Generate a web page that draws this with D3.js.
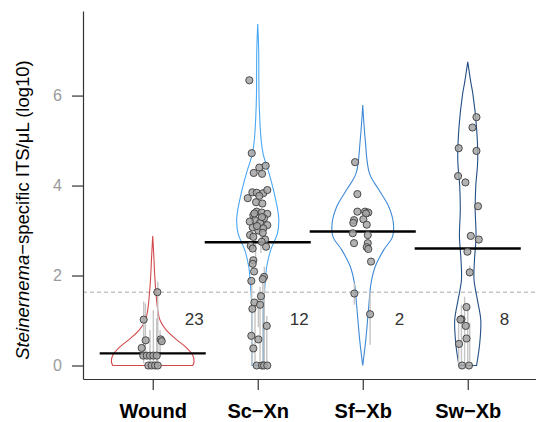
<!DOCTYPE html>
<html>
<head>
<meta charset="utf-8">
<script src="https://cdnjs.cloudflare.com/ajax/libs/d3/7.8.5/d3.min.js"></script>
<style>
  body { margin: 0; background: #fff; }
  #chart { width: 536px; height: 422px; }
</style>
</head>
<body>
<div id="chart"></div>
<script>
// groups along the x axis
var categories = ['Wound', 'Sc\u2212Xn', 'Sf\u2212Xb', 'Sw\u2212Xb'];
var counts = ['23', '12', '2', '8'];
var medians = [0.27, 2.74, 2.98, 2.60];
var threshold = 1.63;
var yTicks = [0, 2, 4, 6];
var violinColors = ['#d2494b', '#4aa8f5', '#3f8ad6', '#234f86'];

// violin outlines: [log10 value, half width in category units]
var woundViolin = [[0, 0.381], [0.08, 0.393], [0.23, 0.381], [0.42, 0.31], [0.57, 0.229], [0.79, 0.127],
  [1.01, 0.069], [1.23, 0.048], [1.63, 0.030], [2.0, 0.019], [2.4, 0.011], [2.88, 0]];
var scViolin = [[0, 0.055], [0.57, 0.055], [1.31, 0.057], [1.83, 0.071], [2.2, 0.086], [2.57, 0.124],
  [2.94, 0.188], [3.27, 0.2], [3.75, 0.165], [4.27, 0.108], [4.7, 0.052], [5.0, 0.033], [5.5, 0.019],
  [6.0, 0.012], [7.0, 0.009], [7.59, 0]];
var sfViolin = [[0, 0], [0.57, 0.029], [1.31, 0.057], [1.83, 0.079], [2.2, 0.119], [2.57, 0.2],
  [2.86, 0.283], [3.16, 0.292], [3.53, 0.248], [3.9, 0.155], [4.27, 0.064], [5.01, 0.024], [5.79, 0]];
var swViolin = [[0, 0.084], [0.49, 0.114], [1.01, 0.124], [1.46, 0.092], [1.9, 0.06], [2.34, 0.064],
  [2.86, 0.079], [3.46, 0.071], [3.97, 0.076], [4.57, 0.095], [5.31, 0.083], [6.05, 0.048],
  [6.27, 0.031], [6.75, 0]];

// samples: [log10 value, jitter in category units]
var woundPoints = [[1.63, 0.044], [1.02, -0.086], [0.56, -0.067], [0.58, 0.076], [0.54, 0.086],
  [0.39, -0.105], [0.22, -0.09], [0.22, -0.057], [0.22, -0.026], [0.22, 0.006], [0.22, 0.038],
  [0, -0.042], [0, -0.01], [0, 0.022], [0, 0.048]];
var scPoints = [[6.34, -0.08], [4.72, -0.057], [4.40, 0.015], [4.44, 0.076], [4.28, -0.038], [4.26, 0.041],
  [3.85, -0.051], [3.84, -0.01], [3.83, 0.053], [3.90, 0.091], [3.72, -0.095], [3.77, 0.015],
  [3.63, -0.016], [3.60, 0.044], [3.42, -0.01], [3.40, 0.038], [3.37, 0.091], [3.34, -0.042],
  [3.27, 0.06], [3.23, -0.026], [3.17, 0.022], [3.12, 0.091], [3.07, -0.048], [3.00, 0.006],
  [3.05, 0.053], [3.38, -0.032], [3.30, 0.04], [3.20, -0.076], [3.10, -0.007], [2.95, 0.048],
  [2.90, -0.073], [2.86, -0.042], [2.80, 0.07], [2.75, 0.038], [2.64, 0.079], [2.66, -0.067],
  [2.60, -0.048], [2.34, -0.042], [2.26, -0.048], [2.09, -0.035], [1.97, 0.06], [1.92, 0.048],
  [1.88, -0.061], [1.54, 0.031], [1.40, -0.032], [1.35, 0.022], [1.26, -0.051], [0.88, 0.086],
  [0.66, -0.061], [0.58, 0.006], [0.38, -0.042], [0, -0.01], [0, 0.041], [0, 0.06], [0, 0.091]];
var sfPoints = [[4.52, -0.073], [3.81, -0.051], [3.42, -0.051], [3.42, 0.022], [3.40, 0.053], [3.38, 0.031],
  [3.23, -0.083], [3.17, -0.09], [3.25, 0.006], [3.13, 0.038], [2.94, -0.095], [2.90, 0.048],
  [2.72, -0.083], [2.72, 0.048], [2.63, 0.038], [2.59, 0.053], [2.31, 0.079], [1.60, -0.08], [1.14, 0.07]];
var swPoints = [[5.52, 0.083], [5.29, 0.045], [4.83, -0.086], [4.77, 0.083], [4.21, -0.092], [4.07, -0.022],
  [3.54, 0.098], [2.88, 0.029], [2.80, 0.105], [2.53, -0.003], [2.07, 0.019], [1.30, -0.012],
  [1.03, -0.06], [1.02, -0.07], [0.88, -0.019], [0.60, -0.012], [0.48, -0.083], [0, -0.054], [0, 0.012]];

// replicate ranges: [jitter, low, high]
var woundRanges = [[0.048, 0, 1.86], [-0.086, 0.05, 1.42], [-0.07, 0.2, 1.38], [0.006, 0.05, 1.23],
  [0.038, 0.05, 1.05], [0.07, 0.2, 0.79], [-0.026, 0.05, 0.79]];
var scRanges = [[-0.057, 0, 1.9], [-0.026, 0, 1.41], [0.022, 0, 1.75], [0.048, 0, 2.0], [0.063, 0, 2.2],
  [0.086, 0, 1.1], [0.006, 0.85, 1.6], [-0.02, 2.3, 3.0], [0.03, 2.5, 3.2]];
var sfRanges = [[-0.08, 1.35, 1.83], [0.07, 0.46, 1.64]];
var swRanges = [[-0.087, 0, 1.0], [-0.06, 0, 1.35], [-0.03, 0, 1.53], [0.0, 0, 1.3], [0.019, 0.1, 0.95],
  [0.02, 1.97, 2.22]];

var violins = [woundViolin, scViolin, sfViolin, swViolin];
var points = [woundPoints, scPoints, sfPoints, swPoints];
var ranges = [woundRanges, scRanges, sfRanges, swRanges];

var width = 536, height = 422;
var font = '"Liberation Sans", Arial, Helvetica, sans-serif';

var svg = d3.select('#chart')
	.append('svg')
	.attr('width', width)
	.attr('height', height)
	.style('font-family', font);

var x = d3.scaleLinear().domain([0.336, 4.65]).range([83, 536]);
var y = d3.scaleLinear().domain([-0.3, 7.88]).range([379, 11]);

// threshold line
svg.append('line')
	.attr('x1', x.range()[0]).attr('x2', x.range()[1])
	.attr('y1', y(threshold)).attr('y2', y(threshold))
	.style('stroke', '#aaa')
	.style('stroke-width', 1)
	.style('stroke-dasharray', '4,3');

// violins
categories.forEach(function(c, i) {
	var cx = i + 1;
	var area = d3.area()
		.curve(d3.curveCatmullRom.alpha(0.5))
		.y(function(d) { return y(d[0]); })
		.x0(function(d) { return x(cx - d[1]); })
		.x1(function(d) { return x(cx + d[1]); });
	svg.append('path')
		.datum(violins[i])
		.attr('d', area)
		.style('fill', 'none')
		.style('stroke', violinColors[i])
		.style('stroke-width', 1.1);
});

// replicate ranges
categories.forEach(function(c, i) {
	var cx = i + 1;
	svg.selectAll('.range' + i)
		.data(ranges[i])
		.enter().append('line')
		.attr('class', 'range' + i)
		.attr('x1', function(d) { return x(cx + d[0]); })
		.attr('x2', function(d) { return x(cx + d[0]); })
		.attr('y1', function(d) { return y(d[1]); })
		.attr('y2', function(d) { return y(d[2]); })
		.style('stroke', '#c4c4c4')
		.style('stroke-width', 1.4);
});

// medians
svg.selectAll('.median')
	.data(medians)
	.enter().append('line')
	.attr('class', 'median')
	.attr('x1', function(d, i) { return x(i + 1 - 0.505); })
	.attr('x2', function(d, i) { return x(i + 1 + 0.505); })
	.attr('y1', function(d) { return y(d); })
	.attr('y2', function(d) { return y(d); })
	.style('stroke', '#000')
	.style('stroke-width', 2.4);

// samples
categories.forEach(function(c, i) {
	var cx = i + 1;
	svg.selectAll('.pt' + i)
		.data(points[i])
		.enter().append('circle')
		.attr('class', 'pt' + i)
		.attr('cx', function(d) { return x(cx + d[1]); })
		.attr('cy', function(d) { return y(d[0]); })
		.attr('r', 3.6)
		.style('fill', '#a4a4a4')
		.style('fill-opacity', 0.85)
		.style('stroke', '#3c3c3c')
		.style('stroke-width', 0.9);
});

// counts
svg.selectAll('.count')
	.data(counts)
	.enter().append('text')
	.attr('class', 'count')
	.attr('x', function(d, i) { return x(i + 1.305); })
	.attr('y', y(1.03))
	.attr('dy', '0.36em')
	.text(function(d) { return d; })
	.style('font-size', '17px')
	.style('fill', '#333');

// y axis
var yAxis = svg.append('g')
	.attr('transform', 'translate(' + x.range()[0] + ',0)')
	.call(d3.axisLeft(y).tickValues(yTicks).tickSize(11).tickSizeOuter(0).tickPadding(10));
yAxis.select('.domain').style('stroke', '#333').style('stroke-width', 1.2);
yAxis.selectAll('.tick line').style('stroke', '#333').style('stroke-width', 1.2);
yAxis.selectAll('.tick text')
	.style('font-family', font)
	.style('font-size', '16px')
	.style('fill', '#9a9a9a');

// x axis
var xAxis = svg.append('g')
	.attr('transform', 'translate(0,' + y.range()[0] + ')')
	.call(d3.axisBottom(x).tickValues([1, 2, 3, 4])
		.tickFormat(function(d) { return categories[d - 1]; })
		.tickSize(11).tickSizeOuter(0).tickPadding(14));
xAxis.select('.domain').style('stroke', '#333').style('stroke-width', 1.2);
xAxis.selectAll('.tick line').style('stroke', '#333').style('stroke-width', 1.2);
xAxis.selectAll('.tick text')
	.style('font-family', font)
	.style('font-size', '20px')
	.style('font-weight', 'bold')
	.style('fill', '#000');

// y title
var title = svg.append('text')
	.attr('transform', 'translate(29,' + ((y.range()[0] + y.range()[1]) / 2 + 15) + ') rotate(-90)')
	.attr('text-anchor', 'middle')
	.style('font-size', '18.5px')
	.style('fill', '#000');
title.append('tspan').style('font-style', 'italic').text('Steinernema');
title.append('tspan').text('\u2212specific ITS/\u03bcL (log10)');
</script>
</body>
</html>
